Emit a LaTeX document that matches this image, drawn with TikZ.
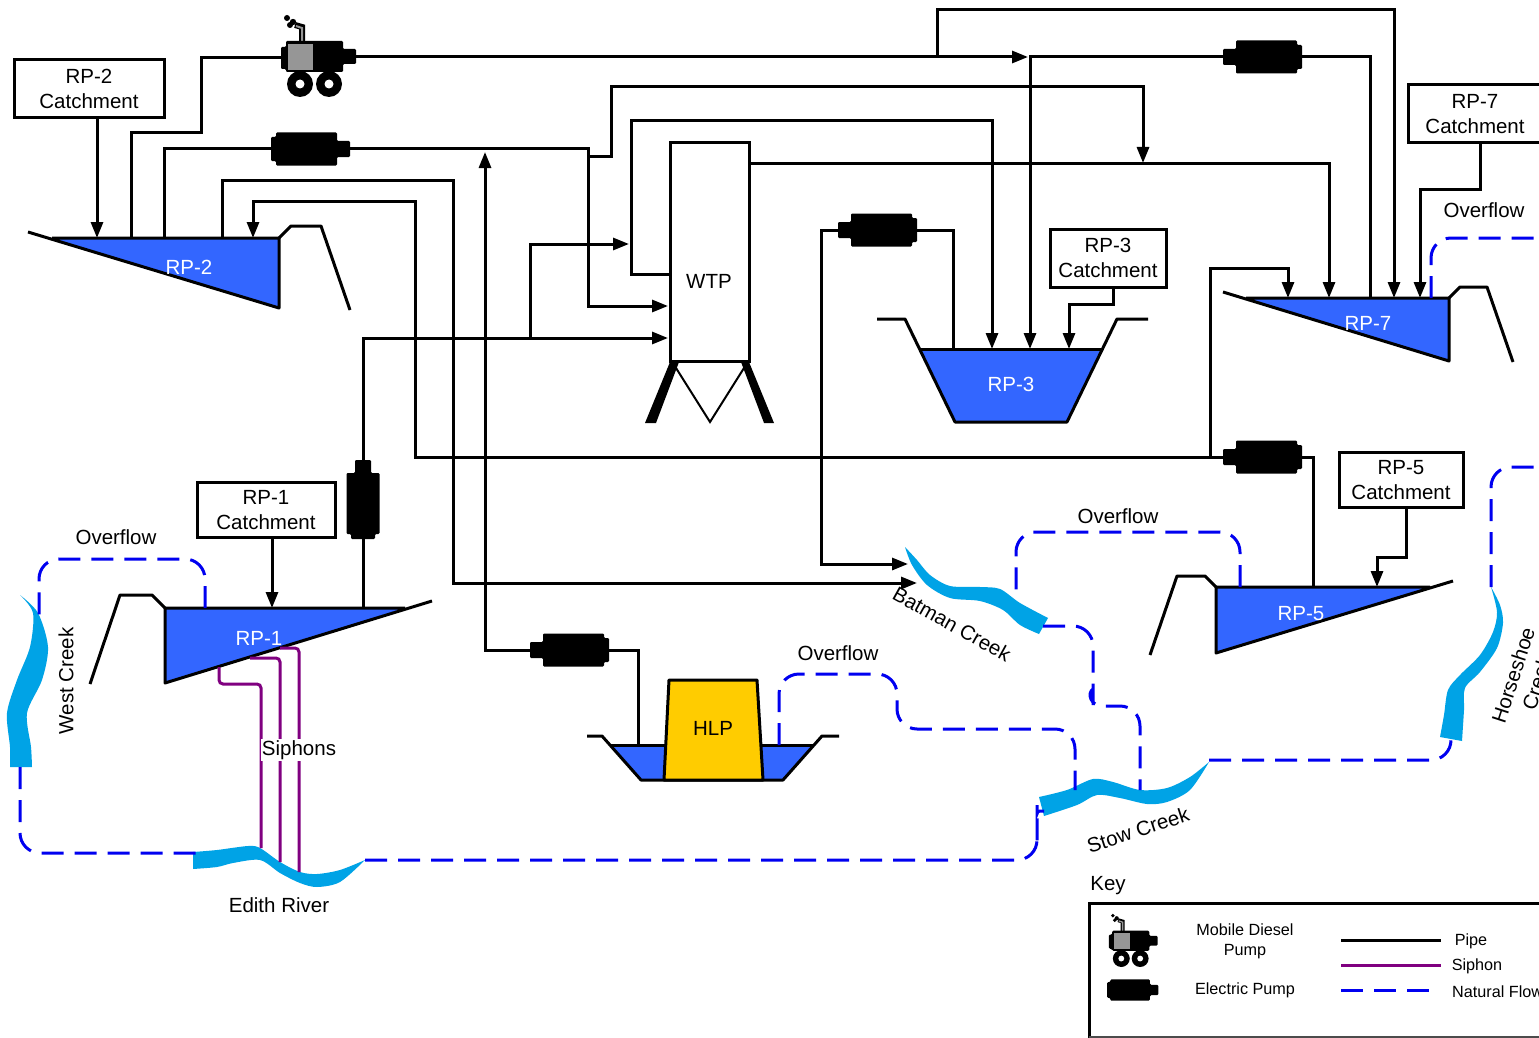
\documentclass[tikz,border=0pt]{standalone}
\usepackage{fontspec}
\setmainfont{Liberation Sans}
\usetikzlibrary{arrows.meta}
\definecolor{pond}{RGB}{51,102,255}
\definecolor{creek}{RGB}{0,163,230}
\definecolor{flow}{RGB}{0,0,240}
\definecolor{siph}{RGB}{128,0,128}
\definecolor{hlp}{RGB}{255,204,0}
\definecolor{motor}{RGB}{150,150,150}
\tikzset{
  pipe/.style={line width=3pt,black},
  arr/.style={pipe,-{Triangle[length=16pt,width=12pt]}},
  siphon/.style={line width=3pt,siph,rounded corners=4pt},
  natural/.style={line width=3pt,flow,dash pattern=on 22pt off 11pt,rounded corners=20pt},
  wall/.style={line width=3pt,black,line join=round},
  stream/.style={fill=creek,draw=none},
  lab/.style={font=\fontsize{20.5}{25}\selectfont,inner sep=0pt,align=center},
  small/.style={font=\fontsize{16.2}{20}\selectfont,inner sep=0pt,align=center},
  wlab/.style={lab,text=white},
  catch/.style={draw=black,line width=3pt,fill=white,lab,minimum width=#1,minimum height=58pt},
}
\newcommand\epump[5]{%
  \node[coordinate] (#1) at (#2,#3) {};
  \begin{scope}[shift={(#2,#3)},rotate=#4,scale=#5]
    \fill[black,rounded corners=1.2pt] (-40,-12) -- (-35,-12) -- (-35,-16.5) -- (26,-16.5) -- (26,-8) -- (39,-8)
      -- (39,8) -- (26,8) -- (26,16.5) -- (-35,16.5) -- (-35,12) -- (-40,12) -- cycle;
  \end{scope}}
\newcommand\dpump[4]{%
  \node[coordinate] (#1) at (#2,#3) {};
  \begin{scope}[shift={(#2,#3)},scale=#4]
    \draw[black,line width=#4*6pt] (-16,-15) -- (-16,-30) -- (-23,-32);
    \draw[motor,line width=#4*2pt] (-16,-15) -- (-16,-29) -- (-22,-31);
    \fill[black] (-31,-39) circle (3) (-25,-35) circle (3.2) (-28,-32) circle (3);
    \fill[black,rounded corners=1.2pt] (-37,-10) -- (-32,-10) -- (-32,-16) -- (25,-16) -- (25,-8) -- (38,-8)
      -- (38,7) -- (25,7) -- (25,15) -- (-32,15) -- (-32,12) -- (-37,12) -- cycle;
    \fill[motor] (-30,-13) rectangle (-5,13);
    \fill[black] (-18,27) circle (13) (11,27) circle (13);
    \fill[white] (-18,27) circle (4.5) (11,27) circle (4.5);
  \end{scope}}
\begin{document}
\begin{tikzpicture}[x=1pt,y=-1pt]
\clip (0,0) rectangle (1539,1038);
\fill[white] (0,0) rectangle (1539,1038);

% streams
\fill[stream] plot[smooth] coordinates {(20,595) (38,613) (48,647) (42,680) (27,713) (31,747) (32,767)}
  -- plot[smooth] coordinates {(10,767) (10,747) (7,713) (17,680) (30,647) (33,613) (20,595)} -- cycle;
\fill[stream] plot[smooth] coordinates {(193,852) (217,850) (248,846) (260,848) (280,862) (300,872) (317,874) (340,870) (365,860)}
  -- plot[smooth] coordinates {(365,860) (340,882) (317,887) (300,883) (280,873) (260,860) (233,863) (217,867) (193,869)} -- cycle;
\fill[stream] plot[smooth] coordinates {(905,547) (917,560) (930,575) (950,586) (980,587) (1000,589) (1020,603) (1048,618)}
  -- plot[smooth] coordinates {(1039,634) (1020,625) (1003,610) (980,601) (950,598) (927,585) (912,565) (905,547)} -- cycle;
\fill[stream] plot[smooth] coordinates {(1039,797) (1067,790) (1093,779) (1113,782) (1140,790) (1167,788) (1190,777) (1209,762)}
  -- plot[smooth] coordinates {(1209,762) (1190,790) (1167,802) (1147,804) (1120,798) (1097,795) (1077,805) (1044,816)} -- cycle;
\fill[stream] plot[smooth] coordinates {(1491,587) (1500,605) (1503,623) (1497,648) (1480,672) (1465,688) (1464,710) (1462,741)}
  -- plot[smooth] coordinates {(1440,737) (1444,715) (1448,690) (1460,675) (1480,655) (1493,632) (1497,612) (1491,587)} -- cycle;

% named connection points on ponds
\coordinate (r2a) at (97,238); \coordinate (r2b) at (131,238); \coordinate (r2c) at (164,238);
\coordinate (r2d) at (222,238); \coordinate (r2e) at (253,238);
\coordinate (r1a) at (272,608); \coordinate (r1b) at (363,608); \coordinate (r1o) at (205,608);
\coordinate (r3a) at (953,349); \coordinate (r3b) at (992,349); \coordinate (r3c) at (1030,349); \coordinate (r3d) at (1069,349);
\coordinate (r7a) at (1288,298); \coordinate (r7b) at (1329,298); \coordinate (r7c) at (1370,298);
\coordinate (r7d) at (1394,298); \coordinate (r7e) at (1420,298); \coordinate (r7o) at (1431,298);
\coordinate (r5a) at (1313,587); \coordinate (r5b) at (1377,587); \coordinate (r5o) at (1240,587);
\coordinate (hp) at (638,745); \coordinate (ho) at (779,745);
\coordinate (w1) at (670,274); \coordinate (w2) at (749,163);
\coordinate (wi1) at (668,306); \coordinate (wi2) at (668,338); \coordinate (wi3) at (629,244);
\coordinate (j1) at (588,156); \coordinate (j2) at (937,57); \coordinate (j3) at (530,338);
\coordinate (j4) at (1210,457); \coordinate (j5) at (1143,163); \coordinate (j6) at (485,152);
\coordinate (j7) at (1028,57);
\coordinate (bc1) at (908,564); \coordinate (bc2) at (917,583);

% catchment boxes
\node[catch=150pt] (c2) at (89,89) {RP-2\\Catchment};
\node[catch=138pt,minimum height=55pt] (c1) at (266,510) {RP-1\\Catchment};
\node[catch=116pt] (c3) at (1108,258) {RP-3\\Catchment};
\node[catch=124pt,minimum height=55pt] (c5) at (1401,480) {RP-5\\Catchment};
\node[catch=134pt] (c7) at (1475,114) {RP-7\\Catchment};

% pipes
\coordinate (d1w) at (290,58);
\node[coordinate] (d1) at (318,57) {};
\node[coordinate] (e1) at (311,149) {};
\node[coordinate] (e2) at (1262,57) {};
\node[coordinate] (e3) at (877,230) {};
\node[coordinate] (e4) at (1262,457) {};
\node[coordinate] (e5) at (363,499) {};
\node[coordinate] (e6) at (569,650) {};
\draw[arr] (c2.south -| r2a) -- (r2a);
\draw[pipe] (r2b) -- (131,133) -- (201,133) -- (201,58) -- (d1w);
\draw[arr] (d1) -- (j7);
\draw[arr] (j2) -- (937,10) -- (1394,10) -- (r7d);
\draw[pipe] (r2c) -- (164,149) -- (e1);
\draw[arr] (e1) -- (588,149) -- (588,306) -- (wi1);
\draw[arr] (j1) -- (611,156) -- (611,87) -- (1143,87) -- (j5);
\draw[arr] (r2d) -- (222,180) -- (453,180) -- (453,583) -- (bc2);
\draw[arr] (e4) -- (415,457) -- (415,201) -- (253,201) -- (r2e);
\draw[arr] (j4) -- (1210,268) -- (1288,268) -- (r7a);
\draw[arr] (w1) -- (631,274) -- (631,121) -- (992,121) -- (r3b);
\draw[arr] (w2) -- (1329,163) -- (r7b);
\draw[arr] (j3) -- (530,244) -- (wi3);
\draw[arr] (r1b) -- (e5) -- (363,338) -- (wi2);
\draw[arr] (hp) -- (638,650) -- (e6) -- (485,650) -- (j6);
\draw[arr] (r7c) -- (1370,57) -- (e2) -- (1030,57) -- (r3c);
\draw[arr] (r3a) -- (953,230) -- (e3) -- (821,230) -- (821,564) -- (bc1);
\draw[arr] (c3.south -| 1113,0) -- (1113,304) -- (1069,304) -- (r3d);
\draw[arr] (c7.south -| 1480,0) -- (1480,189) -- (1420,189) -- (r7e);
\draw[pipe] (e4) -- (1313,457) -- (r5a);
\draw[arr] (c5.south -| 1406,0) -- (1406,557) -- (1377,557) -- (r5b);
\draw[arr] (c1.south -| r1a) -- (r1a);

% ponds
\fill[pond] (52,238) -- (279,238) -- (279,308) -- cycle;
\draw[wall] (28,232) -- (279,308) -- (279,238) -- (52,238);
\draw[wall] (279,238) -- (291,226) -- (321,226) -- (350,310);
\node[wlab] (rp2) at (189,267) {RP-2};

\fill[pond] (165,608) -- (405,608) -- (165,683) -- cycle;
\draw[wall] (432,601) -- (165,683) -- (165,608) -- (405,608);
\draw[wall] (165,608) -- (152,595) -- (120,595) -- (90,684);
\node[wlab] (rp1) at (259,638) {RP-1};

\fill[pond] (920,349) -- (1102,349) -- (1067,422) -- (955,422) -- cycle;
\draw[wall] (877,319) -- (905,319) -- (955,422) -- (1067,422) -- (1117,319) -- (1148,319);
\draw[wall] (920,349) -- (1102,349);
\node[wlab] (rp3) at (1011,384) {RP-3};

\fill[pond] (1246,298) -- (1449,298) -- (1449,361) -- cycle;
\draw[wall] (1223,292) -- (1449,361) -- (1449,298) -- (1246,298);
\draw[wall] (1449,298) -- (1460,287) -- (1487,287) -- (1513,362);
\node[wlab] (rp7) at (1368,323) {RP-7};

\fill[pond] (1216,587) -- (1430,587) -- (1216,653) -- cycle;
\draw[wall] (1453,581) -- (1216,653) -- (1216,587) -- (1430,587);
\draw[wall] (1216,587) -- (1205,576) -- (1177,576) -- (1150,655);
\node[wlab] (rp5) at (1301,614) {RP-5};

% HLP
\fill[pond] (610,745) -- (814,745) -- (783,780) -- (641,780) -- cycle;
\draw[wall] (610,745) -- (814,745);
\draw[wall] (587,736) -- (602,736) -- (641,780) -- (783,780) -- (822,736) -- (839,736);
\draw[wall,fill=hlp] (669,680) -- (757,680) -- (763,780) -- (664,780) -- cycle;
\node[lab] (hlpl) at (713,728) {HLP};

% WTP
\draw[black,line width=3pt,fill=white] (670,143) rectangle (749,361);
\fill[black] (670,362) -- (679,362) -- (656,423) -- (645,423) -- cycle;
\fill[black] (741,362) -- (749,362) -- (774,423) -- (764,423) -- cycle;
\draw[black,line width=2pt] (676,368) -- (710,422) -- (744,368);
\node[lab] (wtp) at (709,281) {WTP};

% pumps
\dpump{d1b}{318}{57}{1}
\epump{e1b}{311}{149}{0}{1}
\epump{e2b}{1262}{57}{180}{1}
\epump{e3b}{877}{230}{180}{1}
\epump{e4b}{1262}{457}{180}{1}
\epump{e5b}{363}{499}{90}{1}
\epump{e6b}{569}{650}{180}{1}

% siphons
\coordinate (s1) at (219,667); \coordinate (s2) at (250,658); \coordinate (s3) at (280,648);
\coordinate (st1) at (261,848); \coordinate (st2) at (280,862); \coordinate (st3) at (299,872);
\draw[siphon] (s1) -- (219,684) -- (261,684) -- (st1);
\draw[siphon] (s2) -- (280,658) -- (st2);
\draw[siphon] (s3) -- (299,648) -- (st3);
\node[lab,fill=white,inner xsep=1pt,inner ysep=1pt] (sl) at (299,750) {Siphons};

% natural flow
\coordinate (wc1) at (39,618); \coordinate (wc2) at (20,767); \coordinate (ed1) at (198,853); \coordinate (ed2) at (365,860);
\coordinate (st1a) at (1044,811); \coordinate (st2a) at (1075,790); \coordinate (st3a) at (1140,790); \coordinate (st4a) at (1209,760);
\coordinate (ba1) at (1016,592); \coordinate (ba2) at (1043,626);
\coordinate (ho1) at (1451,738); \coordinate (ho2) at (1491,587);
\coordinate (ex1) at (1545,238); \coordinate (ex2) at (1535,467);
\draw[natural] (r1o) -- (205,559) -- (39,559) -- (wc1);
\draw[natural] (wc2) -- (20,853) -- (ed1);
\draw[natural] (ed2) -- (1037,860) -- (1037,825) [rounded corners=3pt] -- (1037,811) -- (st1a);
\draw[natural] (ho) -- (779,674) -- (897,674) -- (897,729) -- (1075,729) -- (st2a);
\draw[natural] (r5o) -- (1240,532) -- (1016,532) -- (ba1);
\draw[natural] (ba2) -- (1093,626) -- (1093,685) [sharp corners] -- (1093,689) .. controls (1087,693) and (1090,706) .. (1103,706) [rounded corners=20pt] -- (1140,706) -- (st3a);
\draw[natural] (st4a) -- (1451,760) -- (ho1);
\draw[natural] (r7o) -- (1431,238) -- (ex1);
\draw[natural] (ho2) -- (1491,467) -- (ex2);

% labels
\node[lab] (of1) at (116,537) {Overflow};
\node[lab] (of2) at (838,653) {Overflow};
\node[lab] (of3) at (1118,516) {Overflow};
\node[lab] (of4) at (1484,210) {Overflow};
\node[lab,rotate=90] (wcl) at (66,681) {West Creek};
\node[lab] (edl) at (279,905) {Edith River};
\node[lab,rotate=-29] (bcl) at (952,624) {Batman Creek};
\node[lab,rotate=18] (scl) at (1138,830) {Stow Creek};
\node[lab,rotate=72] (hcl) at (1525,679) {Horseshoe\\Creek};

% key
\node[lab] (kt) at (1108,886) {Key};
\coordinate (ka) at (1545,903); \coordinate (kb) at (1089,903); \coordinate (kc) at (1089,1045);
\draw[black,line width=3pt] (ka) -- (kb) -- (kc);
\draw[black!70,line width=1.5pt] (1089,1037) -- (1545,1037);
\dpump{kd}{1133}{941}{.65}
\epump{ke}{1133}{990}{0}{.65}
\node[small] (kl1) at (1245,941) {Mobile Diesel\\Pump};
\node[small] (kl2) at (1245,990) {Electric Pump};
\coordinate (la) at (1341,940); \coordinate (lb) at (1441,940);
\coordinate (lc) at (1341,965); \coordinate (ld) at (1441,965);
\coordinate (le) at (1341,990); \coordinate (lf) at (1430,990);
\draw[pipe] (la) -- (lb);
\draw[siphon] (lc) -- (ld);
\draw[natural] (le) -- (lf);
\node[small] (kl3) at (1471,941) {Pipe};
\node[small] (kl4) at (1477,966) {Siphon};
\node[small,anchor=west] (kl5) at (1452,992) {Natural Flow};
\end{tikzpicture}
\end{document}
